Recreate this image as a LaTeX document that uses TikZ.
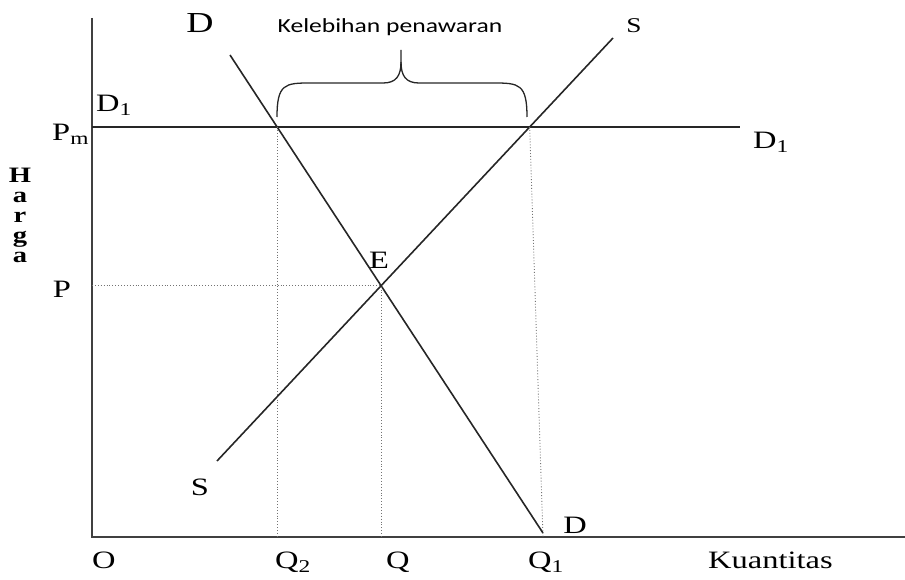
\documentclass[tikz,border=0pt]{standalone}
\usepackage{graphicx}
\usepackage{fontspec}
\setmainfont{Liberation Serif}
\newfontfamily\calib{Carlito}
\newcommand{\hstr}[1]{\scalebox{1.3}[1]{#1}}
\newcommand{\subx}[1]{\raisebox{-4pt}{\fontsize{18}{18}\selectfont #1}}
\usetikzlibrary{intersections}
\begin{document}
\begin{tikzpicture}[x=1pt,y=-1pt,
  lbl/.style={font=\fontsize{25}{25}\selectfont, inner sep=0pt},
  curve/.style={line width=1.6pt, black!85},
  axis/.style={line width=2pt, black!75},
  guide/.style={dotted, line width=0.9pt, black!55},
  bracestyle/.style={line width=1.3pt, black!85}]
\useasboundingbox (0,0) rectangle (905,580);
\coordinate (top) at (92,18);
\coordinate (O) at (92,537);
\coordinate (xend) at (905,537);
\draw[axis] (top) -- (O) -- (xend);
\coordinate (Dtop) at (230,55);
\coordinate (Dbot) at (543,533);
\coordinate (Sbot) at (217,461);
\coordinate (Stop) at (613,38);
\coordinate (D1l) at (92,127);
\coordinate (D1r) at (740,127);
\draw[curve, name path=dline] (Dtop) -- (Dbot);
\draw[curve, name path=sline] (Sbot) -- (Stop);
\draw[curve, name path=d1line] (D1l) -- (D1r);
\path[name intersections={of=dline and sline, by=E}];
\path[name intersections={of=dline and d1line, by=A}];
\path[name intersections={of=sline and d1line, by=B}];
\coordinate (Pax) at (O |- E);
\coordinate (Qax) at (E |- O);
\coordinate (Q2ax) at (A |- O);
\coordinate (Q1ax) at (Dbot |- O);
\draw[guide] (Pax) -- (E) -- (Qax);
\draw[guide] (A) -- (Q2ax);
\draw[guide] (B) -- (Q1ax);
% brace
\coordinate (bl) at (277,117);
\coordinate (br) at (527,117);
\coordinate (tip) at (401,50);
\draw[bracestyle] (bl) .. controls (277,84) and (285,83) .. (310,83) -- (383,83)
   .. controls (396,83) and (401,76) .. (401,62) -- (tip);
\draw[bracestyle] (br) .. controls (527,84) and (519,83) .. (494,83) -- (419,83)
   .. controls (406,83) and (401,76) .. (401,62);
% labels
\node[lbl, font=\fontsize{29}{29}\selectfont, anchor=base] (lD) at (200,33) {\hstr{D}};
\node[inner sep=0pt, anchor=base, font=\calib\fontsize{20}{20}\selectfont] (lK) at (390,33) {\scalebox{1.28}[1]{Kelebihan penawaran}};
\node[lbl, font=\fontsize{21}{21}\selectfont, anchor=base] (lS) at (634,33) {\hstr{S}};
\node[lbl, anchor=base west] (lD1) at (96,112) {\hstr{D\subx{1}}};
\node[lbl, anchor=base west] (lPm) at (52,141) {\hstr{P\subx{m}}};
\node[lbl, anchor=base west] (lD1r) at (753,149) {\hstr{D\subx{1}}};
\node[inner sep=0pt, font=\bfseries\fontsize{22}{20}\selectfont, align=center, anchor=north] (lH) at (20,168) {\hstr{H}\\\hstr{a}\\\hstr{r}\\\hstr{g}\\\hstr{a}};
\node[lbl, anchor=base] (lE) at (379,269) {\hstr{E}};
\node[lbl, anchor=base] (lP) at (62,298) {\hstr{P}};
\node[lbl, anchor=base] (lS2) at (200,495) {\hstr{S}};
\node[lbl, anchor=base] (lD2) at (575,533) {\hstr{D}};
\node[lbl, anchor=base west] (lO) at (92,568) {\hstr{O}};
\node[lbl, anchor=base west] (lQ2) at (275,568) {\hstr{Q\subx{2}}};
\node[lbl, anchor=base west] (lQ) at (386,568) {\hstr{Q}};
\node[lbl, anchor=base west] (lQ1) at (528,568) {\hstr{Q\subx{1}}};
\node[lbl, anchor=base west] (lKu) at (708,568) {\hstr{Kuantitas}};
\end{tikzpicture}
\end{document}
